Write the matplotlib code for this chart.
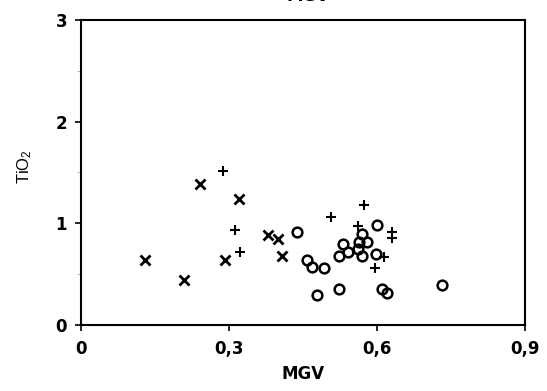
import matplotlib
matplotlib.use('Agg')
import matplotlib.pyplot as plt
from matplotlib.ticker import FuncFormatter, MultipleLocator

plt.rcParams['font.family'] = ['DejaVu Sans']
plt.rcParams['mathtext.default'] = 'regular'

# Group "x"
x_mgv = [0.242, 0.320, 0.379, 0.399, 0.291, 0.129, 0.208, 0.408]
x_tio2 = [1.383, 1.239, 0.885, 0.843, 0.639, 0.639, 0.442, 0.678]

# Group "+"
p_mgv = [0.288, 0.3115, 0.3216, 0.507, 0.573, 0.561, 0.630, 0.630, 0.615, 0.595]
p_tio2 = [1.517, 0.934, 0.715, 1.062, 1.184, 0.974, 0.918, 0.852, 0.672, 0.562]

# Group "o"
o_mgv = [0.437, 0.599, 0.569, 0.564, 0.579, 0.531, 0.541, 0.562, 0.522, 0.569,
         0.598, 0.458, 0.468, 0.492, 0.731, 0.522, 0.478, 0.610, 0.620]
o_tio2 = [0.918, 0.983, 0.892, 0.820, 0.820, 0.794, 0.721, 0.747, 0.678, 0.678,
          0.694, 0.639, 0.574, 0.564, 0.393, 0.354, 0.295, 0.354, 0.318]

fig = plt.figure(figsize=(5.47, 3.91), dpi=100)
ax = fig.add_axes([0.148, 0.169, 0.812, 0.780])

ax.plot(x_mgv, x_tio2, linestyle='none', marker='x', markersize=6.5,
        markeredgewidth=2.0, color='black')
ax.plot(p_mgv, p_tio2, linestyle='none', marker='+', markersize=7.5,
        markeredgewidth=1.5, color='black')
ax.plot(o_mgv, o_tio2, linestyle='none', marker='o', markersize=7,
        markeredgewidth=1.8, markerfacecolor='none', color='black')

ax.set_xlim(0, 0.9)
ax.set_ylim(0, 3)
ax.xaxis.set_major_locator(MultipleLocator(0.3))
ax.yaxis.set_major_locator(MultipleLocator(1))
ax.yaxis.set_minor_locator(MultipleLocator(0.5))

def comma(v, pos):
    if abs(v) < 1e-9:
        return '0'
    return f'{v:.1f}'.replace('.', ',')

ax.xaxis.set_major_formatter(FuncFormatter(comma))
ax.yaxis.set_major_formatter(FuncFormatter(lambda v, p: f'{v:.0f}'))

for s in ax.spines.values():
    s.set_linewidth(1.5)
ax.tick_params(axis='both', which='major', direction='out', length=4, width=1.2,
               labelsize=12)
ax.tick_params(axis='x', which='major', pad=7)
ax.tick_params(axis='y', which='major', pad=6)
ax.tick_params(axis='y', which='minor', direction='out', length=3, width=0.5,
               color='#999999')
for lbl in ax.get_xticklabels() + ax.get_yticklabels():
    lbl.set_fontweight('bold')

ax.set_xlabel('MGV', fontsize=12, fontweight='bold', labelpad=5)
ax.set_ylabel('TiO$_2$', fontsize=12,
              family=['Liberation Sans', 'DejaVu Sans'])
ax.yaxis.set_label_coords(-0.105, 0.52)
fig.text(0.563, 0.988, 'MGV', ha='center', va='bottom', fontsize=12,
         fontweight='bold')

fig.savefig('out.png', dpi=100)
